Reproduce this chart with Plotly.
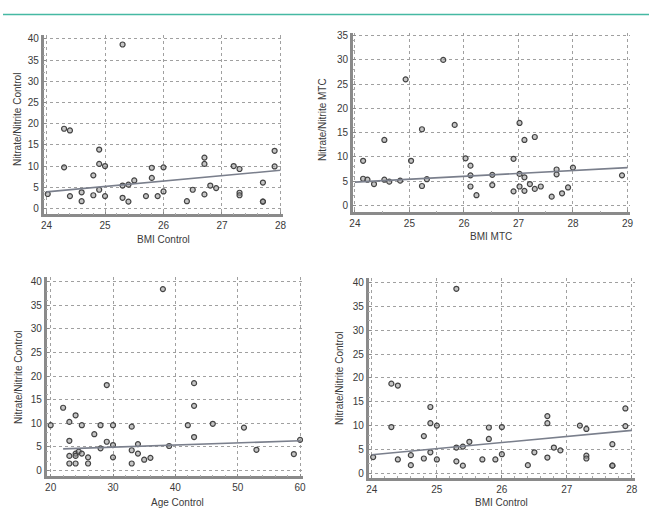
import plotly.graph_objects as go

# ---------------- Data ----------------
# Panel 1 & 4: BMI Control vs Nitrate/Nitrite Control
bmi_control = [24.02, 24.3, 24.4, 24.3, 24.4, 24.6, 24.6, 24.8, 24.8, 24.9, 24.9, 25.0,
               24.9, 25.0, 25.3, 25.3, 25.3, 25.4, 25.4, 25.5, 25.7, 25.8, 25.8, 25.9,
               26.0, 26.0, 26.4, 26.5, 26.7, 26.7, 26.7, 26.8, 26.9, 27.2, 27.3, 27.3,
               27.3, 27.7, 27.7, 27.7, 27.9, 27.9]
no_control_bmi = [3.4, 18.8, 18.4, 9.7, 2.9, 3.8, 1.7, 7.8, 3.1, 13.9, 10.5, 10.0,
                  4.4, 2.9, 38.7, 5.4, 2.5, 5.6, 1.6, 6.6, 2.9, 9.6, 7.2, 2.9,
                  9.7, 4.0, 1.7, 4.4, 12.0, 10.5, 3.3, 5.4, 4.8, 10.0, 9.3, 3.7,
                  3.1, 6.1, 1.6, 1.6, 13.6, 9.9]
fit_bmi_control_x = [24, 28]
fit_bmi_control_y = [3.9, 9.0]

# Panel 2: BMI MTC vs Nitrate/Nitrite MTC
bmi_mtc = [24.15, 24.15, 24.23, 24.35, 24.54, 24.54, 24.63, 24.83, 24.93, 25.03,
           25.23, 25.23, 25.32, 25.62, 25.83, 26.03, 26.12, 26.12, 26.12, 26.23,
           26.52, 26.52, 26.91, 26.91, 27.02, 27.02, 27.02, 27.11, 27.11, 27.11,
           27.21, 27.3, 27.3, 27.41, 27.61, 27.7, 27.7, 27.8, 27.91, 28.0, 28.9]
no_mtc = [9.2, 5.5, 5.3, 4.4, 13.5, 5.3, 4.9, 5.1, 26.0, 9.2,
          15.7, 4.0, 5.4, 30.0, 16.6, 9.7, 8.2, 6.2, 3.9, 2.1,
          6.3, 4.2, 9.6, 2.9, 17.0, 6.5, 3.9, 13.5, 5.8, 3.0,
          4.4, 14.1, 3.4, 3.9, 1.8, 7.4, 6.4, 2.5, 3.7, 7.8, 6.2]
fit_mtc_x = [24, 29]
fit_mtc_y = [4.8, 7.8]

# Panel 3: Age Control vs Nitrate/Nitrite Control
age_control = [20, 22, 23, 23, 23, 23, 24, 24, 24, 24, 24.5, 25, 25, 26, 26, 27, 28, 28,
               29, 29, 30, 30, 30, 33, 33, 33, 34, 34, 35, 36, 38, 39, 42, 43, 43, 43,
               46, 51, 53, 59, 60]
no_control_age = [9.6, 13.3, 10.3, 6.3, 3.1, 1.5, 11.7, 3.6, 3.1, 1.5, 4.0, 9.6, 3.6, 2.8,
                  1.5, 7.7, 9.6, 4.7, 18.1, 6.1, 9.6, 5.4, 2.8, 9.3, 4.3, 1.5, 5.6, 3.6,
                  2.3, 2.7, 38.4, 5.2, 9.6, 18.5, 13.7, 7.1, 9.9, 9.1, 4.4, 3.5, 6.5]
fit_age_x = [22, 60]
fit_age_y = [4.6, 6.3]

x_titles = ["BMI Control", "BMI MTC", "Age Control", "BMI Control"]
y_titles = ["Nitrate/Nitrite Control", "Nitrate/Nitrite MTC",
            "Nitrate/Nitrite Control", "Nitrate/Nitrite Control"]

# ---------------- Layout geometry ----------------
W, H = 652, 509
def px(x): return x / W
def py(y): return 1 - y / H

panels = [
    dict(x=bmi_control, y=no_control_bmi, fx=fit_bmi_control_x, fy=fit_bmi_control_y,
         xdom=[px(41), px(283)], ydom=[py(213), py(32)], xr=[23.95, 28.05], yr=[-1.4, 41.0],
         xt=[24, 25, 26, 27, 28], yt=[0, 5, 10, 15, 20, 25, 30, 35, 40],
         xtitle=(162, 238), ytitle=(14, 117)),
    dict(x=bmi_mtc, y=no_mtc, fx=fit_mtc_x, fy=fit_mtc_y,
         xdom=[px(353), px(633)], ydom=[py(211), py(30)], xr=[23.96, 29.05], yr=[-1.43, 35.6],
         xt=[24, 25, 26, 27, 28, 29], yt=[0, 5, 10, 15, 20, 25, 30, 35],
         xtitle=(493, 235), ytitle=(322, 118)),
    dict(x=age_control, y=no_control_age, fx=fit_age_x, fy=fit_age_y,
         xdom=[px(44), px(303)], ydom=[py(477), py(276)], xr=[19.35, 60.5], yr=[-1.2, 41.0],
         xt=[20, 30, 40, 50, 60], yt=[0, 5, 10, 15, 20, 25, 30, 35, 40],
         xtitle=(176, 503), ytitle=(15, 377)),
    dict(x=bmi_control, y=no_control_bmi, fx=fit_bmi_control_x, fy=fit_bmi_control_y,
         xdom=[px(369), px(638)], ydom=[py(479), py(277)], xr=[23.95, 28.05], yr=[-1.04, 41.0],
         xt=[24, 25, 26, 27, 28], yt=[0, 5, 10, 15, 20, 25, 30, 35, 40],
         xtitle=(503, 503), ytitle=(339, 378)),
]

fig = go.Figure()
font_color = "#3a3a3a"
layout = dict(width=W, height=H, margin=dict(l=0, r=0, t=0, b=0),
              paper_bgcolor="white", plot_bgcolor="white", showlegend=False,
              font=dict(family="Liberation Sans, Arial", size=10, color=font_color))
annotations = []

for i, p in enumerate(panels):
    n = i + 1
    xa = "x" if n == 1 else f"x{n}"
    ya = "y" if n == 1 else f"y{n}"
    fig.add_trace(go.Scatter(x=p["x"], y=p["y"], mode="markers", xaxis=xa, yaxis=ya,
                             marker=dict(size=5, color="rgba(150,150,150,0.55)",
                                         line=dict(color="#444444", width=1.2))))
    fig.add_trace(go.Scatter(x=p["fx"], y=p["fy"], mode="lines", xaxis=xa, yaxis=ya,
                             line=dict(color="#7a7f8c", width=1.6)))
    axcommon = dict(showline=True, linecolor="#8a8a8a", linewidth=2.5,
                    showgrid=True, gridcolor="#a0a0a0", griddash="dot", gridwidth=1,
                    zeroline=False, ticks="inside", ticklen=3, tickcolor="#8a8a8a",
                    tickfont=dict(size=10, color=font_color),
                    minor=dict(ticks="inside", ticklen=2, tickcolor="#aaaaaa", showgrid=False))
    layout["xaxis" if n == 1 else f"xaxis{n}"] = dict(
        domain=p["xdom"], range=p["xr"], tickvals=p["xt"], anchor=ya, **axcommon)
    layout["yaxis" if n == 1 else f"yaxis{n}"] = dict(
        domain=p["ydom"], range=p["yr"], tickvals=p["yt"], anchor=xa, **axcommon)
    tx, ty = p["xtitle"]
    annotations.append(dict(x=px(tx), y=py(ty), xref="paper", yref="paper",
                            xanchor="center", yanchor="middle",
                            text=x_titles[i], showarrow=False,
                            font=dict(size=10, color=font_color)))
    yx, yy = p["ytitle"]
    annotations.append(dict(x=px(yx), y=py(yy), xref="paper", yref="paper",
                            xanchor="center", yanchor="middle",
                            text=y_titles[i], showarrow=False, textangle=-90,
                            font=dict(size=10, color=font_color)))

layout["annotations"] = annotations
layout["shapes"] = [dict(type="line", xref="paper", yref="paper", x0=0, x1=1,
                         y0=py(11.5), y1=py(11.5), line=dict(color="#45b9a3", width=1.5))]
fig.update_layout(**layout)
fig.write_html("out.html", config={"displayModeBar": False},
               post_script="document.body.style.margin='0';document.body.style.padding='0';"
                           "document.body.style.overflow='hidden';")
